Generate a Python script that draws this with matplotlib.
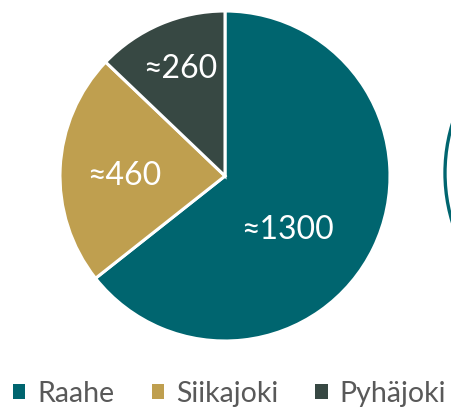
import numpy as np
import matplotlib.pyplot as plt
from matplotlib.patches import Circle, Patch

# data
kunnat = ["Raahe", "Siikajoki", "Pyhäjoki"]
arvot = [1300, 460, 260]
tekstit = ["≈1300", "≈460", "≈260"]
varit = ["#00656F", "#BF9F4F", "#374843"]

plt.rcParams['font.family'] = ['Lato', 'DejaVu Sans']

fig = plt.figure(figsize=(4.51, 4.09), dpi=100)
ax = fig.add_axes([60/451, 68/409, 330/451, 330/409])

wedges, _ = ax.pie(arvot, colors=varit, startangle=90, counterclock=False,
                   radius=1, wedgeprops=dict(edgecolor="white", linewidth=2.2))
ax.set_xlim(-1, 1)
ax.set_ylim(-1, 1)
ax.set_aspect("equal")
ax.axis("off")

# label placement (angle in degrees, distance as fraction of radius)
paikat = [(-41, 0.5), (180, 0.61), (112.5, 0.7)]
for t, (kulma, r) in zip(tekstit, paikat):
    a = np.deg2rad(kulma)
    ax.text(r*np.cos(a), r*np.sin(a), t, color="white", fontsize=23,
            ha="center", va="center")

# edge of the next chart peeking in on the right
fig.add_artist(Circle((6.14, 2.36), 1.69, transform=fig.dpi_scale_trans,
                      fill=False, edgecolor="#00656F", linewidth=2.4))

kahvat = [Patch(facecolor=c, edgecolor="none") for c in varit]
leg = fig.legend(kahvat, kunnat, loc="center left", ncol=3, frameon=False,
                 fontsize=20.5, labelcolor="#595959",
                 handlelength=0.43, handleheight=0.43, handletextpad=0.43,
                 columnspacing=1.3, borderpad=0, borderaxespad=0)
leg.set_bbox_to_anchor((13/451, 15/409), transform=fig.transFigure)

fig.savefig("out.png", dpi=100)
